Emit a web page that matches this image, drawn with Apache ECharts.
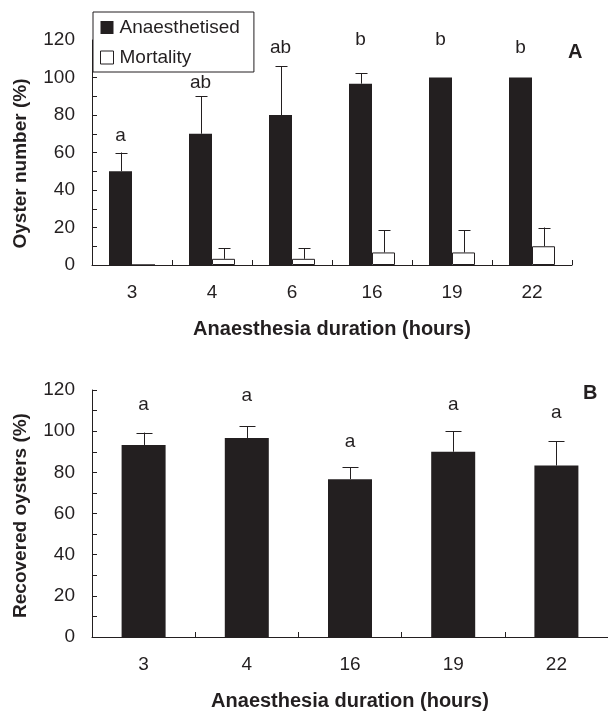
<!DOCTYPE html>
<html>
<head>
<meta charset="utf-8">
<script src="https://cdn.jsdelivr.net/npm/echarts@6/dist/echarts.min.js"></script>
<style>html,body{margin:0;padding:0;background:#fff}#c{width:608px;height:713px}</style>
</head>
<body>
<div id="c"></div>
<script>
// ---- Data (panel A) ----
const categoriesA = ['3', '4', '6', '16', '19', '22'];
const anaesthetised = [50, 70, 80, 96.7, 100, 100];
const anaesthetisedErr = [10, 20, 26, 5.5, 0, 0];
const mortality = [0, 3.3, 3.3, 6.7, 6.7, 10];
const mortalityErr = [0, 5.7, 5.7, 11.8, 11.8, 10];
const lettersA = ['a', 'ab', 'ab', 'b', 'b', 'b'];
const letterValA = [69, 97, 115.6, 120, 120, 115.6];
// ---- Data (panel B) ----
const categoriesB = ['3', '4', '16', '19', '22'];
const recovered = [93.3, 96.7, 76.7, 90, 83.3];
const recoveredErr = [6, 5.8, 5.8, 10, 11.8];
const lettersB = ['a', 'a', 'a', 'a', 'a'];
const letterValB = [113, 117, 95, 113, 109];
const yTicks = [0, 20, 40, 60, 80, 100, 120];

const INK = '#231f20';
const FONT = 'Liberation Sans, Arial, sans-serif';
const BAR_A = 23, BAR_B = 44;

function errItems(vals, errs) {
  return vals.map((v, i) => [i, v, v + errs[i]]);
}
function errRender(offset, cap) {
  return function (params, api) {
    const lo = api.value(1), hi = api.value(2);
    if (hi - lo <= 0) return null;
    const p0 = api.coord([api.value(0), lo]);
    const p1 = api.coord([api.value(0), hi]);
    const x = Math.round(p0[0] + offset) + 0.5;
    const st = { stroke: INK, lineWidth: 1 };
    return { type: 'group', children: [
      { type: 'line', shape: { x1: x, y1: p0[1], x2: x, y2: p1[1] }, style: st },
      { type: 'line', shape: { x1: x - cap / 2, y1: Math.round(p1[1]) + 0.5, x2: x + cap / 2, y2: Math.round(p1[1]) + 0.5 }, style: st }
    ]};
  };
}
function letterRender(letters, offset) {
  return function (params, api) {
    const p = api.coord([api.value(0), api.value(1)]);
    return { type: 'text', x: p[0] + offset, y: p[1],
      style: { text: letters[params.dataIndex], fill: INK, font: '19px ' + FONT, align: 'center', verticalAlign: 'middle' } };
  };
}

function yAxis(gi, name, namePad) {
  return {
    type: 'value', gridIndex: gi, min: yTicks[0], max: yTicks[yTicks.length - 1], interval: 20,
    name: name, nameLocation: 'middle', nameGap: 62,
    nameTextStyle: { fontFamily: FONT, fontWeight: 'bold', fontSize: 19, color: INK, padding: namePad },
    axisLine: { show: true, lineStyle: { color: INK, width: 1 } },
    axisTick: { show: true, inside: true, length: 5, lineStyle: { color: INK } },
    minorTick: { show: true, splitNumber: 2, length: 5, lineStyle: { color: INK } },
    splitLine: { show: false },
    axisLabel: { fontFamily: FONT, fontSize: 19, color: INK, margin: 17 }
  };
}
function xAxis(gi, cats) {
  return {
    type: 'category', gridIndex: gi, data: cats,
    name: 'Anaesthesia duration (hours)', nameLocation: 'middle', nameGap: 54,
    nameTextStyle: { fontFamily: FONT, fontWeight: 'bold', fontSize: 20, color: INK },
    axisLine: { show: true, lineStyle: { color: INK, width: 1 } },
    axisTick: { show: true, inside: true, length: 5, lineStyle: { color: INK } },
    axisLabel: { fontFamily: FONT, fontSize: 19, color: INK, margin: 18 }
  };
}

const chart = echarts.init(document.getElementById('c'), null, { renderer: 'canvas' });
chart.setOption({
  animation: false,
  backgroundColor: '#fff',
  grid: [
    { left: 92, right: 36, top: 40, bottom: 448 },
    { left: 92, right: -1, top: 390, bottom: 76 }
  ],
  xAxis: [xAxis(0, categoriesA), xAxis(1, categoriesB)],
  yAxis: [yAxis(0, 'Oyster number (%)', [0, 22, 0, 0]), yAxis(1, 'Recovered oysters (%)', [0, 4, 0, 0])],
  legend: {
    orient: 'vertical', left: 93, top: 12,
    data: [
      { name: 'Anaesthetised', icon: 'rect', itemStyle: { color: INK, borderWidth: 0 } },
      { name: 'Mortality', icon: 'rect', itemStyle: { color: '#fff', borderColor: INK, borderWidth: 1 } }
    ],
    itemWidth: 13, itemHeight: 13, itemGap: 11,
    padding: [6, 14, 5, 7],
    borderColor: INK, borderWidth: 1, backgroundColor: '#fff',
    textStyle: { fontFamily: FONT, fontSize: 19, color: INK, padding: [0, 0, 0, 1] }
  },
  graphic: [
    { type: 'text', left: 568, top: 42, style: { text: 'A', font: 'bold 20px ' + FONT, fill: INK } },
    { type: 'text', left: 583, top: 383, style: { text: 'B', font: 'bold 20px ' + FONT, fill: INK } }
  ],
  series: [
    { name: 'Anaesthetised', type: 'bar', xAxisIndex: 0, yAxisIndex: 0, data: anaesthetised,
      barWidth: BAR_A, barGap: '0%', itemStyle: { color: INK } },
    { name: 'Mortality', type: 'bar', xAxisIndex: 0, yAxisIndex: 0, data: mortality,
      barWidth: BAR_A, barGap: '0%', itemStyle: { color: '#fff', borderColor: INK, borderWidth: 1 } },
    { type: 'custom', xAxisIndex: 0, yAxisIndex: 0, data: errItems(anaesthetised, anaesthetisedErr),
      renderItem: errRender(-BAR_A / 2, 12), z: 3 },
    { type: 'custom', xAxisIndex: 0, yAxisIndex: 0, data: errItems(mortality, mortalityErr),
      renderItem: errRender(BAR_A / 2, 12), z: 3 },
    { type: 'custom', xAxisIndex: 0, yAxisIndex: 0, data: letterValA.map((v, i) => [i, v]),
      renderItem: letterRender(lettersA, -BAR_A / 2), z: 4 },
    { name: 'Recovered', type: 'bar', xAxisIndex: 1, yAxisIndex: 1, data: recovered,
      barWidth: BAR_B, itemStyle: { color: INK } },
    { type: 'custom', xAxisIndex: 1, yAxisIndex: 1, data: errItems(recovered, recoveredErr),
      renderItem: errRender(0, 16), z: 3 },
    { type: 'custom', xAxisIndex: 1, yAxisIndex: 1, data: letterValB.map((v, i) => [i, v]),
      renderItem: letterRender(lettersB, 0), z: 4 }
  ]
});
</script>
</body>
</html>
